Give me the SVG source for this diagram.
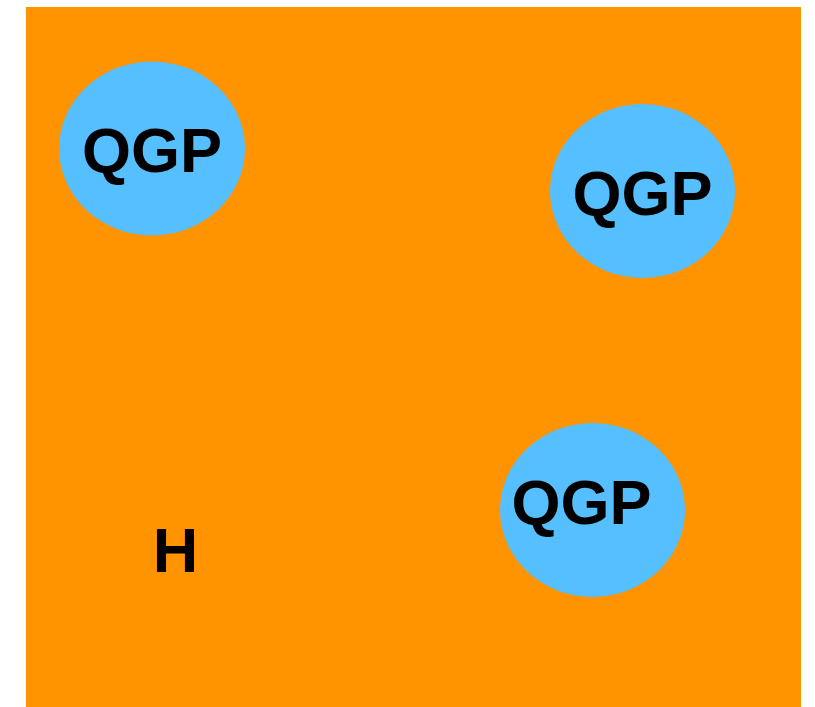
<svg xmlns="http://www.w3.org/2000/svg" width="815" height="707" viewBox="0 0 815 707">
<style>
.qgp { fill: #55BFFF; }
.lbl { font-family: "Liberation Sans", Arial, Helvetica, sans-serif; font-weight: bold; font-size: 63px; fill: #000; text-anchor: middle; }
</style>
<rect x="0" y="0" width="815" height="707" fill="#FFFFFF"/>
<g id="hadron-phase">
<rect x="26" y="7" width="775" height="700" fill="#FF9300"/>
<text class="lbl" x="175.5" y="572">H</text>
</g>
<g id="qgp1">
<ellipse class="qgp" cx="152" cy="148.5" rx="93" ry="87"/>
<text class="lbl" x="152" y="172">QGP</text>
</g>
<g id="qgp2">
<ellipse class="qgp" cx="642.5" cy="191" rx="92.5" ry="87"/>
<text class="lbl" x="642.5" y="215">QGP</text>
</g>
<g id="qgp3">
<ellipse class="qgp" cx="592.5" cy="510" rx="92.5" ry="87"/>
<text class="lbl" x="581.5" y="524">QGP</text>
</g>
<g id="connectors"></g>
</svg>
